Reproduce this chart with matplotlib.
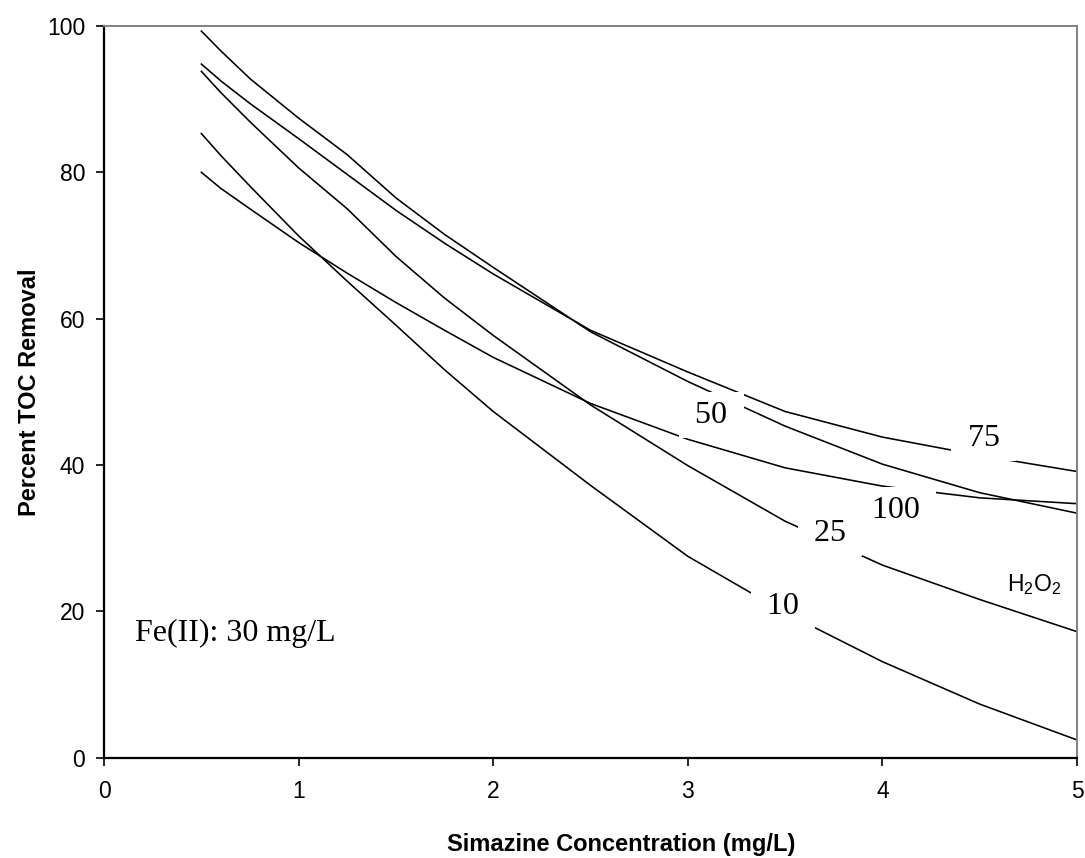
import matplotlib
matplotlib.use("Agg")
import matplotlib.pyplot as plt

plt.rcParams['font.family'] = ['Liberation Sans', 'DejaVu Sans']
plt.rcParams['mathtext.fontset'] = 'custom'
plt.rcParams['mathtext.rm'] = 'Liberation Sans'
plt.rcParams['mathtext.it'] = 'Liberation Sans'

# Simazine concentration (mg/L)
x = [0.5, 0.6, 0.75, 1.0, 1.25, 1.5, 1.75, 2.0, 2.5, 3.0, 3.5, 4.0, 4.5, 5.0]

# Percent TOC removal for each H2O2 dose (mg/L)
h2o2_10 = [85.3, 82.3, 78.1, 71.3, 65.1, 59.1, 53.0, 47.3, 37.2, 27.5, 19.8, 13.1, 7.3, 2.4]
h2o2_25 = [93.8, 90.9, 86.9, 80.6, 75.0, 68.5, 62.8, 57.7, 48.2, 39.9, 32.3, 26.3, 21.6, 17.2]
h2o2_50 = [99.3, 96.6, 92.8, 87.4, 82.4, 76.5, 71.5, 67.0, 58.2, 51.4, 45.3, 40.1, 36.2, 33.4]
h2o2_75 = [94.8, 92.5, 89.4, 84.6, 79.7, 74.8, 70.3, 66.1, 58.4, 52.7, 47.3, 43.8, 41.3, 39.1]
h2o2_100 = [80.0, 77.8, 75.0, 70.4, 66.2, 62.2, 58.4, 54.7, 48.4, 43.5, 39.6, 37.1, 35.5, 34.7]

series = [h2o2_10, h2o2_25, h2o2_50, h2o2_75, h2o2_100]
labels = ["10", "25", "50", "75", "100"]
label_pos = [(3.49, 20.7), (3.73, 30.6), (3.12, 46.8), (4.52, 43.6), (4.07, 33.8)]

fig = plt.figure(figsize=(10.85, 8.58), dpi=100)
ax = fig.add_axes([0.0959, 0.1171, 0.8968, 0.8526])

for ys in series:
    ax.plot(x, ys, color='black', lw=1.15, zorder=2, solid_joinstyle='round')

for lab, (lx, ly) in zip(labels, label_pos):
    ax.text(lx, ly, " " + lab + " ", ha='center', va='center', fontsize=23,
            family=['Liberation Serif', 'DejaVu Serif'], zorder=5,
            bbox=dict(boxstyle='square,pad=0.26', facecolor='white', edgecolor='none'))

ax.text(4.78, 23.7, r"H$_\mathregular{2}$O$_\mathregular{2}$", ha='center', va='center',
        fontsize=16.5, zorder=5)
ax.text(0.16, 17.0, "Fe(II): 30 mg/L", ha='left', va='center', fontsize=23,
        family=['Liberation Serif', 'DejaVu Serif'])

ax.set_xlim(0, 5)
ax.set_ylim(0, 100)
ax.set_xticks([0, 1, 2, 3, 4, 5])
ax.set_yticks([0, 20, 40, 60, 80, 100])

for side in ['left', 'bottom']:
    ax.spines[side].set_color('black')
    ax.spines[side].set_linewidth(1.6)
for side in ['top', 'right']:
    ax.spines[side].set_color('#808080')
    ax.spines[side].set_linewidth(1.4)

ax.tick_params(axis='both', direction='out', length=5.5, width=1.2, labelsize=16.5, colors='black')
ax.tick_params(axis='x', pad=11)
ax.tick_params(axis='y', pad=8)

fig.text(621 / 1085, 1 - 845 / 858, "Simazine Concentration (mg/L)", ha='center', va='center',
         fontsize=17, fontweight='bold')
fig.text(30 / 1085, 1 - 392 / 858, "Percent TOC Removal", ha='center', va='center',
         rotation=90, fontsize=17, fontweight='bold')

fig.savefig("out.png", dpi=100)
